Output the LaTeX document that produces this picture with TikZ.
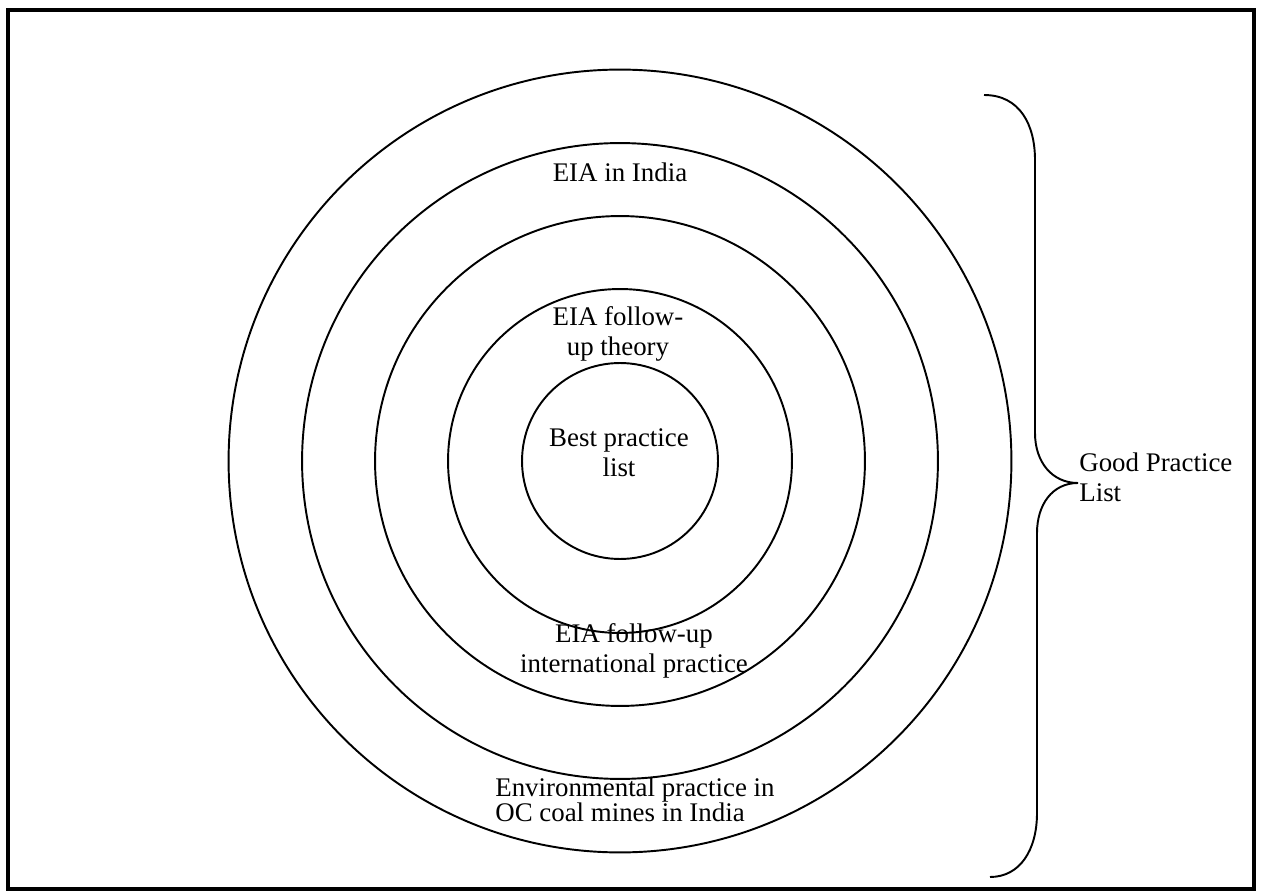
\documentclass[tikz,border=0pt]{standalone}
\usepackage{fontspec}
\setmainfont{Liberation Serif}
\begin{document}
\begin{tikzpicture}[x=0.02cm, y=-0.02cm,
    ring/.style={circle, inner sep=0pt, line width=1.1pt, draw=black},
    ringtext/.style={inner sep=0pt, align=center, font=\fontsize{15.3}{17}\selectfont}]

    % Draw the frame.
    \useasboundingbox (0,0) rectangle (1262,895);
    \draw[line width=2.5pt] (8,10) rectangle (1254,889);

    % Draw the rings.
    \node[ring, minimum size=15.66cm] (r_1) at (620,461) {};
    \node[ring, minimum size=12.72cm] (r_2) at (620,461) {};
    \node[ring, minimum size=9.80cm] (r_3) at (620,461) {};
    \node[ring, minimum size=6.88cm] (r_4) at (620,461) {};
    \node[ring, minimum size=3.92cm] (r_5) at (620,461) {};

    % Draw the ring labels.
    \node[ringtext] (t_1) at (620,172) {EIA in India};
    \node[ringtext] (t_2) at (618,334) {EIA follow-\\up theory};
    \node[ringtext] (t_3) at (619,453) {Best practice\\list};
    \node[ringtext] (t_4) at (634,651) {EIA follow-up\\international practice};
    \node[ringtext, align=left, anchor=west, font=\fontsize{15.3}{14.2}\selectfont] (t_5) at (495,800) {Environmental practice in\\OC coal mines in India};

    % Draw the brace.
    \node[ringtext, align=left, anchor=west] (good) at (1079,477) {Good Practice\\List};
    \coordinate (tip) at (1078,483);
    \draw[line width=1.1pt] (984,95) .. controls (1020,95) and (1035,125) .. (1035,160)
        -- (1035,433) .. controls (1035,462) and (1052,483) .. (tip)
        .. controls (1052,483) and (1037,505) .. (1037,533)
        -- (1037,813) .. controls (1037,850) and (1020,877) .. (990,877);
  \end{tikzpicture}
\end{document}
